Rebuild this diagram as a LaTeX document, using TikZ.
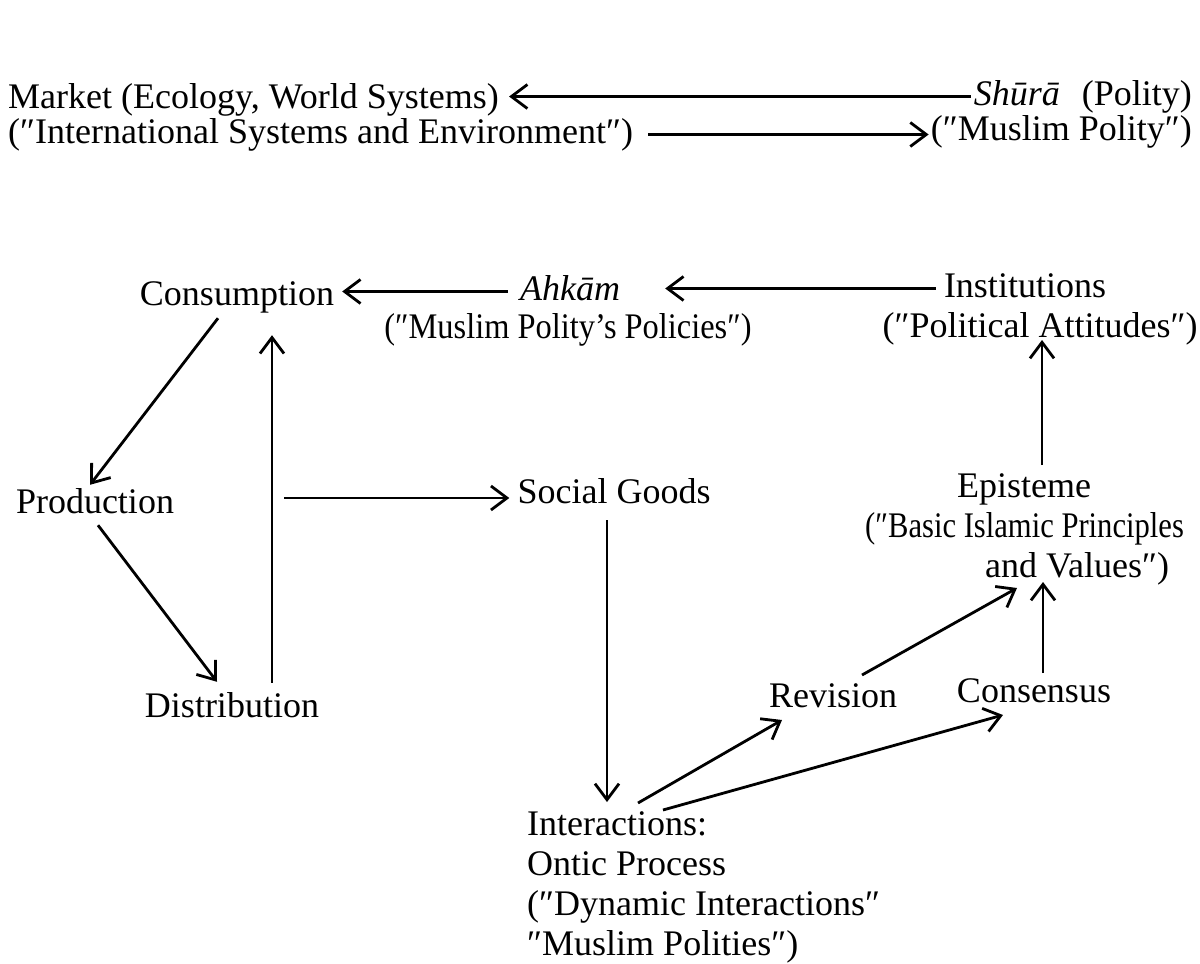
\documentclass[tikz,border=0pt]{standalone}
\usepackage{fontspec}
\setmainfont{Liberation Serif}
\usetikzlibrary{arrows.meta,calc}
\begin{document}
\begin{tikzpicture}[x=1pt,y=-1pt,
  lbl/.style={inner sep=0pt, font=\fontsize{36}{41}\selectfont, text height=25pt, text depth=8pt},
  mlbl/.style={inner sep=0pt, font=\fontsize{36}{40}\selectfont},
  arr/.style={-{Straight Barb[length=16pt,width=24pt]}, line width=2.8pt}]
\useasboundingbox (0,0) rectangle (1200,964);

% top
\node[lbl, anchor=base west] (market1) at (8,108) {Market (Ecology, World Systems)};
\node[lbl, anchor=base west] (market2) at (8,143) {(″International Systems and Environment″)};
\node[lbl, anchor=base east] (shura1) at (1192,105) {\textit{Shūrā}\hspace{22pt}(Polity)};
\node[lbl, anchor=base east] (shura2) at (1192,140) {(″Muslim Polity″)};

% middle row
\node[lbl, anchor=base] (cons) at (237,305) {Consumption};
\node[lbl, anchor=base] (ahkam) at (570,300) {\textit{Ahkām}};
\node[lbl, anchor=base] (ahkamsub) at (568,338) {\addfontfeature{FakeStretch=0.9}(″Muslim Polity's Policies″)};
\node[lbl, anchor=base] (inst) at (1025,297) {Institutions};
\node[lbl, anchor=base] (instsub) at (1040,337) {(″Political Attitudes″)};

\node[lbl, anchor=base] (prod) at (95,513) {Production};
\node[lbl, anchor=base] (social) at (614,503) {Social Goods};
\node[mlbl, anchor=north west, align=left] (epi) at (865,473) {\hspace*{92pt}Episteme\\{\addfontfeature{FakeStretch=0.85}(″Basic Islamic Principles}\\\hspace*{120pt}and Values″)};

\node[lbl, anchor=base] (dist) at (232,717) {Distribution};
\node[lbl, anchor=base] (rev) at (833,707) {Revision};
\node[lbl, anchor=base] (consensus) at (1034,702) {Consensus};
\node[mlbl, anchor=north west, align=left] (inter) at (527,811) {Interactions:\\Ontic Process\\(″Dynamic Interactions″\\″Muslim Polities″)};

% connectors
\draw[arr, shorten <=3pt, shorten >=10pt] (shura1.west) -- (shura1.west -| market1.east);
\draw[arr, shorten <=15pt, shorten >=2pt] (market2.east) -- (market2.east -| shura2.west);
\draw[arr, shorten <=12pt, shorten >=8pt] (ahkam.west) -- (ahkam.west -| cons.east);
\draw[arr, shorten <=8pt, shorten >=45pt] (inst.west) -- (inst.west -| ahkam.east);

\draw[arr] ($(cons.south)+(-19,5)$) -- ($(prod.north)+(-5,-3)$);
\draw[arr] ($(prod.south)+(3,4)$) -- ($(dist.north)+(-15,-10)$);
\draw[arr] ($(dist.north)+(40,-9)$) -- ($(cons.south)+(35,22)$);
\coordinate (branch) at (284,498);
\draw[arr, shorten >=8pt] (branch) -- (branch -| social.west);
\draw[arr] ($(social.south)+(-7,9)$) coordinate (s1) -- ($(s1 |- inter.north)+(0,-9)$);

\draw[arr] ($(inter.north west)+(111,-8)$) -- ($(rev.base)+(-51,13)$);
\draw[arr] ($(inter.north west)+(136,-1)$) -- ($(consensus.base)+(-31,13)$);
\draw[arr] ($(rev.base)+(29,-32)$) -- ($(epi.north west)+(152,115)$);
\draw[arr] ($(consensus.base)+(9,-29)$) -- ($(epi.north west)+(178,109)$);
\draw[arr] ($(epi.north west)+(177,-8)$) -- ($(epi.north west)+(177,-133)$);
\end{tikzpicture}
\end{document}
